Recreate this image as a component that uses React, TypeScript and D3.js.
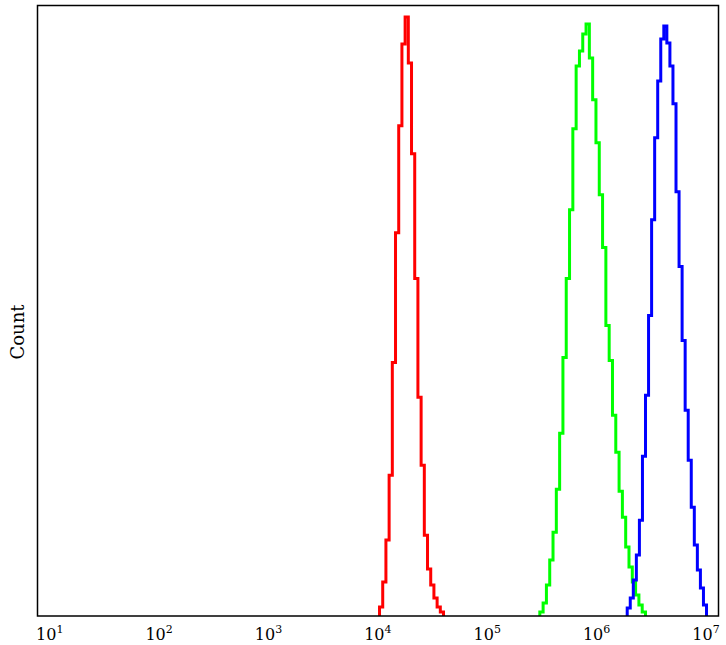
import React from "react";
import * as d3 from "d3";

const W = 726;
const H = 645;

// x axis in log10 units
const xDomainLog = [0.891, 7.116];
const tickExps = [1, 2, 3, 4, 5, 6, 7];

// histogram series: first/last bin edge (log10) and bin counts
const redLo = 4.0174;
const redHi = 4.6024;
const redCounts = [9, 34, 76, 141, 254, 384, 491, 573, 600, 554, 463, 338, 219, 151, 81, 47, 31, 18, 9, 4];

const greenLo = 5.4826;
const greenHi = 6.4488;
const greenCounts = [4, 13, 31, 56, 84, 127, 183, 259, 338, 407, 488, 551, 566, 583, 593, 559, 517, 474, 422, 369, 291, 256, 201, 164, 125, 99, 69, 49, 34, 21, 11, 4];

const blueLo = 6.2815;
const blueHi = 7.0064;
const blueCounts = [8, 18, 36, 61, 96, 160, 221, 301, 397, 479, 536, 578, 591, 574, 551, 513, 425, 350, 276, 206, 156, 109, 71, 46, 28, 11];

const yMax = 611;

const series = [
  { lo: redLo, hi: redHi, counts: redCounts, color: "#ff0000" },
  { lo: greenLo, hi: greenHi, counts: greenCounts, color: "#00ff00" },
  { lo: blueLo, hi: blueHi, counts: blueCounts, color: "#0000ff" },
];

export default function App() {
  const left = 37.5, right = 718.5, top = 5.5, bottom = 616;
  const x = d3.scaleLog().domain(xDomainLog.map((e) => Math.pow(10, e))).range([left, right]);
  const y = d3.scaleLinear().domain([0, yMax]).range([bottom, top + 0.5]);
  const line = d3.line<[number, number]>().x((d) => x(d[0])).y((d) => y(d[1]));

  const paths = series.map((s) => {
    const n = s.counts.length;
    const edges = d3.range(n + 1).map((i) => Math.pow(10, s.lo + ((s.hi - s.lo) * i) / n));
    const pts: [number, number][] = [[edges[0], 0]];
    s.counts.forEach((c, i) => {
      pts.push([edges[i], c]);
      pts.push([edges[i + 1], c]);
    });
    pts.push([edges[n], 0]);
    return { d: line(pts) || "", color: s.color };
  });

  const labelX = d3.scaleLog().domain([10, 1e7]).range([49.7, 706]);

  return (
    <svg width={W} height={H} style={{ position: "absolute", left: 0, top: 0, background: "#fff" }}>
      <rect x={0} y={0} width={W} height={H} fill="#fff" />
      {paths.map((p, i) => (
        <path key={i} d={p.d} fill="none" stroke={p.color} strokeWidth={3} strokeLinejoin="miter" />
      ))}
      <rect x={left} y={top} width={right - left} height={bottom - top} fill="none" stroke="#000" strokeWidth={1.5} />
      {tickExps.map((e) => (
        <text key={e} x={labelX(Math.pow(10, e))} y={639.5} textAnchor="middle" fontFamily="DejaVu Serif" fontSize={16} fill="#000">
          10
          <tspan dy={-7} fontSize={11}>{e}</tspan>
        </text>
      ))}
      <text transform="translate(24,332) rotate(-90)" textAnchor="middle" fontFamily="DejaVu Serif" fontSize={18} fill="#000">
        Count
      </text>
    </svg>
  );
}
